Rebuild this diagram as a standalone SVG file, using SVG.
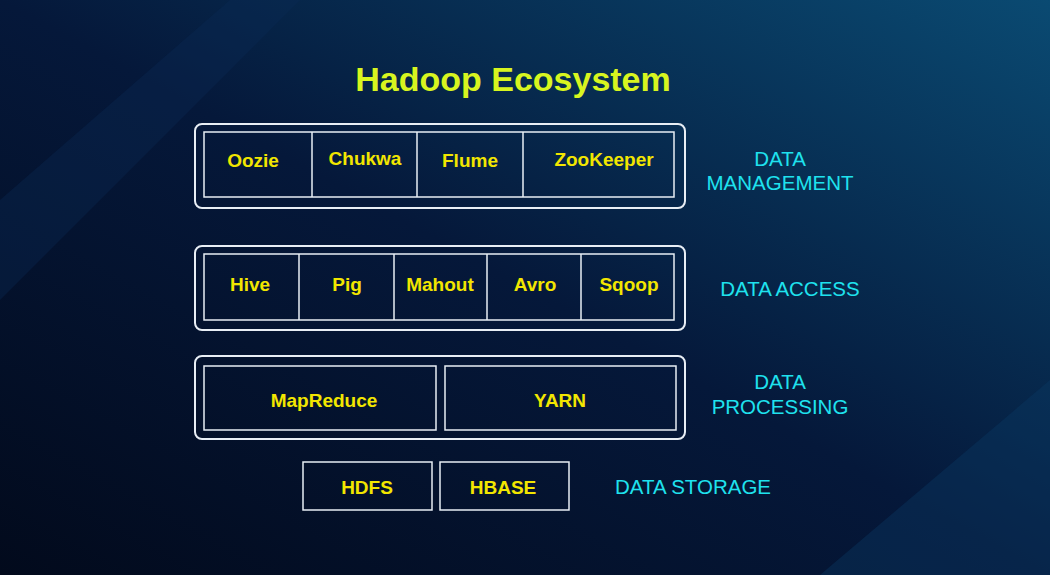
<svg xmlns="http://www.w3.org/2000/svg" width="1050" height="575" viewBox="0 0 1050 575">
<defs>
<linearGradient id="bg" x1="0" y1="1" x2="1" y2="0">
<stop offset="0" stop-color="#020a1c"/>
<stop offset="0.5" stop-color="#05183a"/>
<stop offset="1" stop-color="#0a4a72"/>
</linearGradient>
<style>
.o{fill:none;stroke:#e8eef5;stroke-width:2}
.i{fill:none;stroke:#e8eef5;stroke-width:1.5}
.t{font-family:"Liberation Sans",Arial,sans-serif;font-size:19px;font-weight:bold;fill:#f2e600;text-anchor:middle}
.l{font-family:"Liberation Sans",Arial,sans-serif;font-size:20.5px;fill:#1fe2ee;text-anchor:middle}
</style>
</defs>
<rect width="1050" height="575" fill="url(#bg)"/>
<polygon points="0,200 230,0 300,0 0,300" fill="#0b2a55" opacity="0.35"/>
<polygon points="820,575 1050,380 1050,575" fill="#0a3a63" opacity="0.4"/>
<text x="513" y="91" font-family="Liberation Sans,Arial,sans-serif" font-weight="bold" font-size="34" fill="#d8f51f" text-anchor="middle">Hadoop Ecosystem</text>
<g id="management">
<rect class="o" x="195" y="124" width="490" height="84" rx="7"/>
<rect class="i" x="204" y="132" width="470" height="65"/>
<path class="i" d="M312 132V197M417 132V197M523 132V197"/>
<text class="t" x="253" y="167">Oozie</text>
<text class="t" x="365" y="165">Chukwa</text>
<text class="t" x="470" y="167">Flume</text>
<text class="t" x="604" y="166">ZooKeeper</text>
<text class="l" x="780" y="166">DATA</text>
<text class="l" x="780" y="190">MANAGEMENT</text>
</g>
<g id="access">
<rect class="o" x="195" y="246" width="490" height="84" rx="7"/>
<rect class="i" x="204" y="254" width="470" height="66"/>
<path class="i" d="M299 254V320M394 254V320M487 254V320M581 254V320"/>
<text class="t" x="250" y="291">Hive</text>
<text class="t" x="347" y="291">Pig</text>
<text class="t" x="440" y="291">Mahout</text>
<text class="t" x="535" y="291">Avro</text>
<text class="t" x="629" y="291">Sqoop</text>
<text class="l" x="790" y="296">DATA ACCESS</text>
</g>
<g id="processing">
<rect class="o" x="195" y="356" width="490" height="83" rx="7"/>
<rect class="i" x="204" y="366" width="232" height="64"/>
<rect class="i" x="445" y="366" width="231" height="64"/>
<text class="t" x="324" y="407">MapReduce</text>
<text class="t" x="560" y="407">YARN</text>
<text class="l" x="780" y="389">DATA</text>
<text class="l" x="780" y="414">PROCESSING</text>
</g>
<g id="storage">
<rect class="i" x="303" y="462" width="129" height="48"/>
<rect class="i" x="440" y="462" width="129" height="48"/>
<text class="t" x="367" y="494">HDFS</text>
<text class="t" x="503" y="494">HBASE</text>
<text class="l" x="693" y="494">DATA STORAGE</text>
</g>
<g id="connectors"/>
</svg>
